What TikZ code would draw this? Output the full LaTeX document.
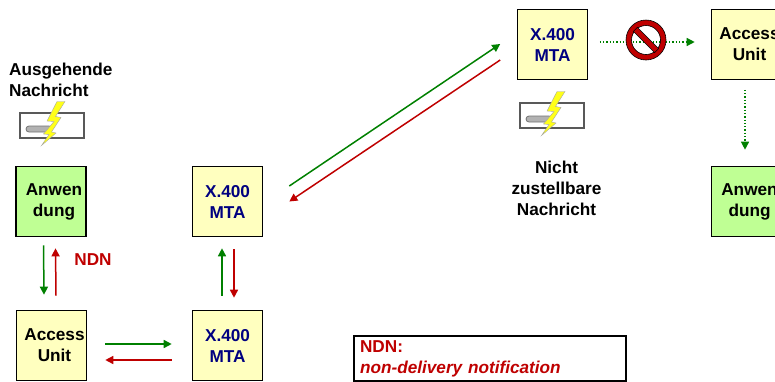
\documentclass[tikz,border=0pt]{standalone}
\usepackage{fontspec}
\setmainfont{Liberation Sans}
\usetikzlibrary{arrows.meta}
\definecolor{boxyellow}{rgb}{1,1,0.75}
\definecolor{boxgreen}{rgb}{0.75,1,0.58}
\definecolor{navy}{rgb}{0,0,0.5}
\definecolor{okgreen}{rgb}{0,0.5,0}
\definecolor{ndnred}{rgb}{0.75,0,0}
\definecolor{boltyellow}{rgb}{1,1,0.1}

\begin{document}
\begin{tikzpicture}
    [x=1pt, y=-1pt,
    unit/.style={draw, line width=1.6pt, fill=boxyellow, minimum width=70pt, minimum height=70pt, inner sep=0pt, align=center, font=\fontsize{17.2}{21}\bfseries},
    mta/.style={unit, text=navy},
    app/.style={unit, fill=boxgreen},
    label/.style={align=center, inner sep=0pt, font=\fontsize{17.2}{21}\bfseries},
    sent/.style={-{Triangle[length=8pt,width=8pt]}, okgreen, line width=1.5pt},
    back/.style={-{Triangle[length=8pt,width=8pt]}, ndnred, line width=1.5pt},
    lost/.style={-{Triangle[length=8pt,width=8pt]}, okgreen, line width=1.3pt, dotted},
    msgicon/.pic={
        \draw[line width=1.1pt, draw=black!65, fill=white] (-32,-12.5) rectangle (32,12.5);
        \draw[line width=0.8pt, draw=black!55, fill=black!30, rounded corners=3pt] (-26,0.5) rectangle (0,6.5);
        \draw[draw=black!35, line width=0.4pt, fill=boltyellow] (13,-24) -- (5,-24) -- (-5,-4.5) -- (2,-4) -- (-8.5,8.5) -- (-3,9) -- (-10.5,20) -- (4,7.5) -- (-0.5,6.5) -- (9,-8) -- (3.5,-9) -- cycle;
    }]
    \useasboundingbox (0,0) rectangle (775,381);
    \node[app] (app1) at (51,201.5)      {\hspace*{6pt}Anwen\\\hspace*{6pt}dung};
    \node[unit] (acc1) at (51.5,345.5)   {\hspace*{6pt}Access\\\hspace*{6pt}Unit};
    \node[mta] (mta1) at (227.5,201.5)   {X.400\\MTA};
    \node[mta] (mta2) at (227.5,345.5)   {X.400\\MTA};
    \node[mta] (mta3) at (552.5,44.5)    {X.400\\MTA};
    \node[unit] (acc2) at (746.5,44.5)   {\hspace*{6pt}Access\\\hspace*{6pt}Unit};
    \node[app] (app2) at (746.5,201.5)   {\hspace*{6pt}Anwen\\\hspace*{6pt}dung};
    \node[label, align=left, anchor=west] (out) at (9,79.5) {Ausgehende\\Nachricht};
    \node[label] (lost) at (556.5,188)   {Nicht\\zustellbare\\Nachricht};
    \node[label, text=ndnred] (ndn) at (93,260) {NDN};
    \node[draw, line width=1.4pt, fill=white, minimum width=272pt, minimum height=45pt, text width=260pt, inner sep=0pt, align=left, text=ndnred, font=\fontsize{17.2}{21}\bfseries] (key) at (490,358.5)
        {NDN:\\\textit{non-delivery notification}};
    \coordinate (stop) at (646,40);
    \pic at (52,125.5) {msgicon};
    \pic at (552,115.5) {msgicon};
    \draw[sent] ([xshift=-7.5pt,yshift=-8pt]app1.south) -- ([xshift=-7.5pt,yshift=15pt]acc1.north);
    \draw[back] ([xshift=4.5pt,yshift=14pt]acc1.north) -- ([xshift=4.5pt,yshift=-11pt]app1.south);
    \draw[sent] ([xshift=-5.5pt,yshift=14pt]mta2.north) -- ([xshift=-5.5pt,yshift=-11pt]mta1.south);
    \draw[back] ([xshift=6.5pt,yshift=-12pt]mta1.south) -- ([xshift=6.5pt,yshift=12pt]mta2.north);
    \draw[sent] ([xshift=18pt,yshift=1.5pt]acc1.east) -- ([xshift=-20pt,yshift=1.5pt]mta2.west);
    \draw[back] ([xshift=-20pt,yshift=-14.5pt]mta2.west) -- ([xshift=18pt,yshift=-14.5pt]acc1.east);
    \draw[sent] ([xshift=26pt,yshift=15.5pt]mta1.east) -- ([xshift=-16.5pt,yshift=0.5pt]mta3.west);
    \draw[back] ([xshift=-16.5pt,yshift=-15.5pt]mta3.west) -- ([xshift=26pt,yshift=0pt]mta1.east);
    \draw[lost] ([xshift=11.5pt,yshift=2.5pt]mta3.east) -- ([xshift=-16pt,yshift=2.5pt]acc2.west);
    \draw[lost] ([xshift=-1.5pt,yshift=-9.5pt]acc2.south) -- ([xshift=-1.5pt,yshift=16pt]app2.north);
    % no entry sign
    \draw[line width=0.6pt, fill=ndnred, even odd rule] (stop) circle (20) (stop) circle (14.5);
    \draw[line width=0.6pt, fill=ndnred, rotate around={-45:(stop)}] ([xshift=-15pt,yshift=-2.8pt]stop) rectangle ([xshift=15pt,yshift=2.8pt]stop);
\end{tikzpicture}
\end{document}
